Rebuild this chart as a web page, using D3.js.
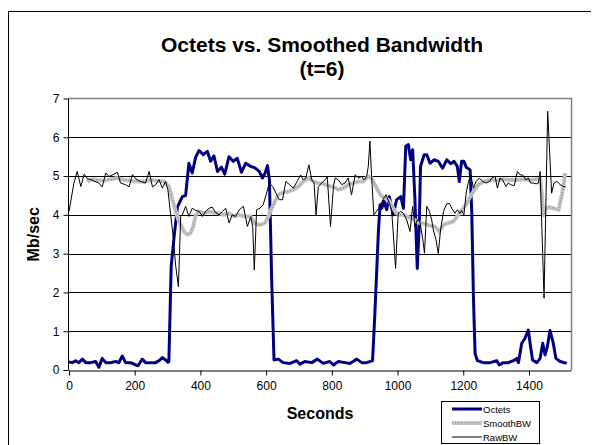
<!DOCTYPE html>
<html>
<head>
<meta charset="utf-8">
<script src="https://cdn.jsdelivr.net/npm/d3@7"></script>
<style>
  body { margin: 0; background: #fff; }
  text { font-family: "Liberation Sans", Arial, sans-serif; }
</style>
</head>
<body>
<div id="chart"></div>
<script>
// seconds / Mb per sec
let octetsTime = [0, 10, 20, 30, 41, 51, 66, 81, 91, 101, 112, 127, 142, 152, 162, 172, 188, 203, 210, 223, 233, 249, 264, 277, 284, 294, 301, 304,
  311, 320, 330, 345, 355, 365, 375, 386, 396, 409, 421, 431, 441, 452, 464, 474, 487, 500, 512, 525, 538, 553, 566, 579, 589, 597, 604, 610, 617,
  624, 637, 652, 673, 693, 703, 718, 739, 756, 774, 794, 805, 820, 840, 855, 876, 891, 906, 924,
  931, 942, 947, 952, 959, 967, 975, 987, 997, 1010, 1018, 1025, 1033, 1040, 1046, 1053, 1060, 1066, 1070, 1081, 1089, 1099, 1111, 1124, 1137,
  1150, 1162, 1172, 1182, 1188, 1195, 1202, 1209, 1221, 1226, 1231, 1236,
  1243, 1261, 1282, 1302, 1310, 1322, 1337, 1353, 1363, 1368, 1378, 1388, 1398, 1405, 1411, 1424, 1434, 1442, 1449, 1456, 1464, 1474, 1482, 1495, 1515];
let octetsMbps = [0.21, 0.19, 0.24, 0.19, 0.28, 0.19, 0.19, 0.22, 0.07, 0.3, 0.19, 0.19, 0.22, 0.19, 0.36, 0.19, 0.19, 0.13, 0.11, 0.28, 0.19, 0.19, 0.19, 0.26, 0.32, 0.26, 0.2, 0.22,
  2.67, 3.44, 4.2, 4.47, 4.5, 5.33, 5.08, 5.5, 5.66, 5.55, 5.64, 5.38, 5.52, 5.12, 5.23, 5.05, 5.5, 5.38, 5.46, 5.1, 5.33, 5.25, 5.21, 5.12, 4.95, 5.08, 5.27, 4.9, 2.3,
  0.26, 0.28, 0.19, 0.17, 0.24, 0.15, 0.22, 0.19, 0.28, 0.17, 0.22, 0.13, 0.22, 0.19, 0.17, 0.28, 0.19, 0.19, 0.24,
  1.46, 3.61, 4.26, 4.17, 4.35, 4.13, 4.47, 4.0, 4.39, 4.47, 4.17, 5.77, 5.81, 5.42, 5.68, 4.39, 2.62, 3.7, 5.25, 5.55, 5.55, 5.33, 5.42, 5.38, 5.2,
  5.42, 5.32, 5.38, 5.25, 4.86, 5.38, 5.38, 5.23, 5.16, 4.04, 1.89, 0.43,
  0.24, 0.19, 0.19, 0.24, 0.13, 0.19, 0.19, 0.24, 0.3, 0.19, 0.69, 0.82, 1.03, 0.6, 0.26, 0.19, 0.3, 0.69, 0.39, 0.6, 1.02, 0.69, 0.3, 0.22, 0.17];

let smoothTime = [56, 71, 86, 107, 127, 147, 167, 188, 208, 228, 249, 269, 289, 304, 315, 325, 333, 340, 350, 360, 370, 378, 386, 396, 411, 426, 441, 457,
  472, 487, 502, 518, 533, 553, 566, 581, 597, 607, 617, 627, 637, 652, 668, 683, 698, 713, 728, 744, 759, 774, 789, 805, 820, 835, 850, 865, 881, 896,
  911, 921, 931, 942, 952, 962, 972, 987, 997, 1008, 1018, 1028, 1038, 1048, 1058, 1068, 1084, 1099, 1114, 1127, 1140, 1155, 1170, 1185, 1200, 1211,
  1221, 1231, 1246, 1261, 1276, 1292, 1307, 1322, 1342, 1363, 1383, 1403, 1424, 1434, 1439, 1444, 1452, 1462, 1474, 1490, 1497, 1505, 1510];
let smoothMbps = [4.86, 4.92, 4.9, 4.88, 4.92, 4.95, 4.9, 4.88, 4.86, 4.86, 4.9, 4.88, 4.86, 4.73, 4.39, 4.09, 3.87, 3.74, 3.57, 3.49, 3.53, 3.7, 4.0, 4.09, 4.04, 4.09, 4.06, 4.04,
  4.0, 4.04, 3.96, 4.0, 3.96, 3.96, 3.77, 3.74, 3.79, 3.96, 4.17, 4.35, 4.52, 4.58, 4.6, 4.65, 4.73, 4.86, 4.95, 4.86, 4.82, 4.8, 4.75, 4.72, 4.65, 4.69, 4.78, 4.82, 4.86, 4.86,
  4.99, 4.95, 4.78, 4.6, 4.48, 4.43, 4.39, 4.17, 4.04, 4.0, 4.0, 3.96, 3.92, 3.89, 3.83, 3.79, 3.77, 3.72, 3.7, 3.57, 3.74, 3.79, 3.83, 4.0, 4.17, 4.3,
  4.47, 4.6, 4.78, 4.86, 4.9, 4.89, 4.9, 4.92, 4.9, 4.9, 4.92, 4.9, 4.92, 4.92, 4.56, 3.96, 4.17, 4.2, 4.17, 4.13, 4.39, 4.73, 5.08];

let rawTime = [0, 15, 25, 36, 46, 56, 66, 76, 91, 101, 112, 122, 137, 147, 157, 172, 183, 193, 203, 218, 233, 244, 254, 264, 274, 284, 294, 301, 309, 317,
  325, 333, 340, 345, 355, 365, 375, 386, 396, 406, 416, 426, 436, 446, 457, 467, 477, 487, 497, 507, 518, 531, 543, 553, 559, 564, 571, 581, 591,
  600, 610, 620, 630, 640, 650, 660, 671, 683, 693, 705, 713, 721, 730, 739, 746, 752, 759, 769, 779, 786, 792, 796, 805, 810, 820, 830, 840, 850, 860,
  871, 881, 891, 898, 906, 911, 916, 921, 928, 936, 947, 955, 965, 975, 982, 987, 994, 1002, 1010, 1018, 1028, 1038, 1046, 1053, 1060, 1068, 1077,
  1082, 1089, 1097, 1104, 1109, 1117, 1124, 1131, 1140, 1150, 1158, 1165, 1175, 1182, 1190, 1195, 1202, 1209, 1216, 1223, 1231, 1239, 1249, 1259,
  1269, 1280, 1287, 1297, 1304, 1312, 1320, 1330, 1337, 1344, 1355, 1365, 1373, 1381, 1391, 1398, 1405, 1413, 1422, 1429, 1434, 1446, 1457, 1469,
  1476, 1485, 1495, 1505, 1512];
let rawMbps = [4.09, 4.82, 5.12, 4.73, 5.05, 4.93, 4.91, 4.87, 4.82, 4.72, 5.08, 4.99, 5.05, 5.1, 4.82, 4.78, 4.72, 5.04, 4.93, 4.86, 4.82, 5.12, 4.72, 4.78, 4.91, 4.69, 4.86, 4.65, 4.04, 3.44,
  2.67, 2.15, 3.96, 4.0, 4.22, 3.96, 4.17, 4.11, 4.09, 3.96, 4.09, 4.17, 4.2, 4.06, 4.0, 4.09, 4.17, 3.79, 4.0, 3.96, 4.13, 4.22, 3.7, 3.95, 3.7, 2.58, 4.13, 4.17, 4.26,
  4.52, 4.82, 4.73, 4.56, 4.39, 4.39, 4.86, 4.78, 4.69, 4.84, 5.03, 4.9, 4.95, 5.29, 4.9, 4.82, 4.0, 4.73, 4.82, 4.9, 4.99, 4.22, 3.7, 4.73, 4.95, 4.9, 4.78, 4.82, 4.95, 4.52,
  5.03, 4.95, 4.99, 4.9, 4.99, 5.25, 5.9, 4.99, 4.0, 4.09, 4.22, 4.39, 4.52, 4.3, 4.13, 3.53, 2.62, 4.04, 4.09, 4.04, 3.87, 3.57, 4.22, 3.7, 3.87, 3.83, 3.36,
  3.01, 4.22, 4.09, 3.87, 3.61, 3.36, 3.0, 3.61, 4.09, 4.29, 4.29, 4.17, 4.04, 4.13, 4.04, 4.11, 4.0, 4.56, 4.86, 5.03, 4.69, 4.86, 4.95, 4.86,
  4.82, 4.86, 4.95, 4.99, 4.69, 4.95, 4.9, 4.73, 4.82, 4.78, 4.75, 5.12, 5.03, 5.03, 4.9, 4.95, 4.82, 4.82, 4.8, 4.82, 5.12, 1.85, 6.67, 4.56,
  4.82, 4.86, 4.78, 4.73, 4.72];

let xTicks = [0, 200, 400, 600, 800, 1000, 1200, 1400];
let yTicks = [0, 1, 2, 3, 4, 5, 6, 7];
let seriesNames = ['Octets', 'SmoothBW', 'RawBW'];

let width = 600;
let height = 445;
let plot = { left: 69, right: 571, top: 98.5, bottom: 370 };

let svg = d3.select('#chart').append('svg')
  .attr('width', width)
  .attr('height', height);

svg.append('rect').attr('width', width).attr('height', height).attr('fill', '#fff');

// outer chart frame (only left + top show in the crop)
svg.append('path')
  .attr('d', 'M8.5,445V11.5H591')
  .attr('fill', 'none')
  .attr('stroke', '#000');

let x = d3.scaleLinear().domain([0, 1528]).range([plot.left, plot.right]);
let y = d3.scaleLinear().domain([0, 7]).range([plot.bottom, plot.top]);

// gridlines
svg.append('g').selectAll('line')
  .data(yTicks.filter((d) => d > 0 && d < 7))
  .enter().append('line')
  .attr('x1', plot.left).attr('x2', plot.right)
  .attr('y1', (d) => Math.round(y(d)) + 0.5)
  .attr('y2', (d) => Math.round(y(d)) + 0.5)
  .attr('stroke', '#000');

// plot area border (gray top and right)
svg.append('path')
  .attr('d', `M${plot.left},${plot.top}H${plot.right + 0.5}V${plot.bottom}`)
  .attr('fill', 'none')
  .attr('stroke', '#808080')
  .attr('stroke-width', 1.5);

let fmt = d3.format('d');

let xAxis = svg.append('g')
  .attr('transform', `translate(0,${plot.bottom + 0.5})`)
  .call(d3.axisBottom(x).tickValues(xTicks).tickFormat(fmt).tickSize(5).tickPadding(6).tickSizeOuter(0));

let yAxis = svg.append('g')
  .attr('transform', `translate(${plot.left - 0.5},0)`)
  .call(d3.axisLeft(y).tickValues(yTicks).tickFormat(fmt).tickSize(5).tickPadding(4).tickSizeOuter(0));

[xAxis, yAxis].forEach((g) => {
  g.select('.domain').attr('stroke', '#000');
  g.selectAll('.tick line').attr('stroke', '#000');
  g.selectAll('.tick text')
    .attr('fill', '#000')
    .style('font-family', '"Liberation Sans", Arial, sans-serif')
    .style('font-size', '12px');
});
yAxis.select('.domain').attr('d', `M0,${plot.top}V${plot.bottom}`);

// series
let makeLine = (ts, vs) => d3.line()
  .x((d, i) => x(ts[i]))
  .y((d, i) => y(vs[i]))(vs);

svg.append('path')
  .attr('d', makeLine(octetsTime, octetsMbps))
  .attr('fill', 'none')
  .attr('stroke', '#000080')
  .attr('stroke-width', 3)
  .attr('stroke-linejoin', 'round');

let smoothD = makeLine(smoothTime, smoothMbps);
svg.append('path')
  .attr('d', smoothD)
  .attr('fill', 'none')
  .attr('stroke', '#c4c4c4')
  .attr('stroke-width', 4);
svg.append('path')
  .attr('d', smoothD)
  .attr('fill', 'none')
  .attr('stroke', '#8c8c8c')
  .attr('stroke-width', 1.2)
  .attr('stroke-dasharray', '1,2');

svg.append('path')
  .attr('d', makeLine(rawTime, rawMbps))
  .attr('fill', 'none')
  .attr('stroke', '#000')
  .attr('stroke-width', 1);

// titles
let title = svg.append('text')
  .attr('text-anchor', 'middle')
  .attr('font-weight', 'bold')
  .attr('font-size', 21);
title.append('tspan').attr('x', 322).attr('y', 51.5).text('Octets vs. Smoothed Bandwidth');
title.append('tspan').attr('x', 322).attr('y', 76).text('(t=6)');

svg.append('text')
  .attr('x', 320).attr('y', 419)
  .attr('text-anchor', 'middle')
  .attr('font-weight', 'bold')
  .attr('font-size', 16)
  .text('Seconds');

svg.append('text')
  .attr('transform', `translate(39,${(plot.top + plot.bottom) / 2}) rotate(-90)`)
  .attr('text-anchor', 'middle')
  .attr('font-weight', 'bold')
  .attr('font-size', 16)
  .text('Mb/sec');

// legend
let legend = svg.append('g');
legend.append('rect')
  .attr('x', 441.5).attr('y', 401.5)
  .attr('width', 98).attr('height', 42)
  .attr('fill', '#fff')
  .attr('stroke', '#000');

let legendY = [409, 423, 437];
let items = legend.selectAll('.item')
  .data(seriesNames)
  .enter().append('g')
  .attr('class', 'item')
  .attr('transform', (d, i) => `translate(0,${legendY[i]})`);

items.each(function(d) {
  let g = d3.select(this);
  if (d === 'Octets') {
    g.append('line').attr('x1', 452).attr('x2', 482).attr('stroke', '#000080').attr('stroke-width', 3);
  } else if (d === 'SmoothBW') {
    g.append('line').attr('x1', 452).attr('x2', 482).attr('stroke', '#c4c4c4').attr('stroke-width', 4);
    g.append('line').attr('x1', 452).attr('x2', 482).attr('stroke', '#8c8c8c').attr('stroke-width', 1.2).attr('stroke-dasharray', '1,2');
  } else {
    g.append('line').attr('x1', 452).attr('x2', 482).attr('stroke', '#000').attr('stroke-width', 1);
  }
  g.append('text')
    .attr('x', 483).attr('y', 3.5)
    .attr('font-size', 9.5)
    .text(d);
});
</script>
</body>
</html>
